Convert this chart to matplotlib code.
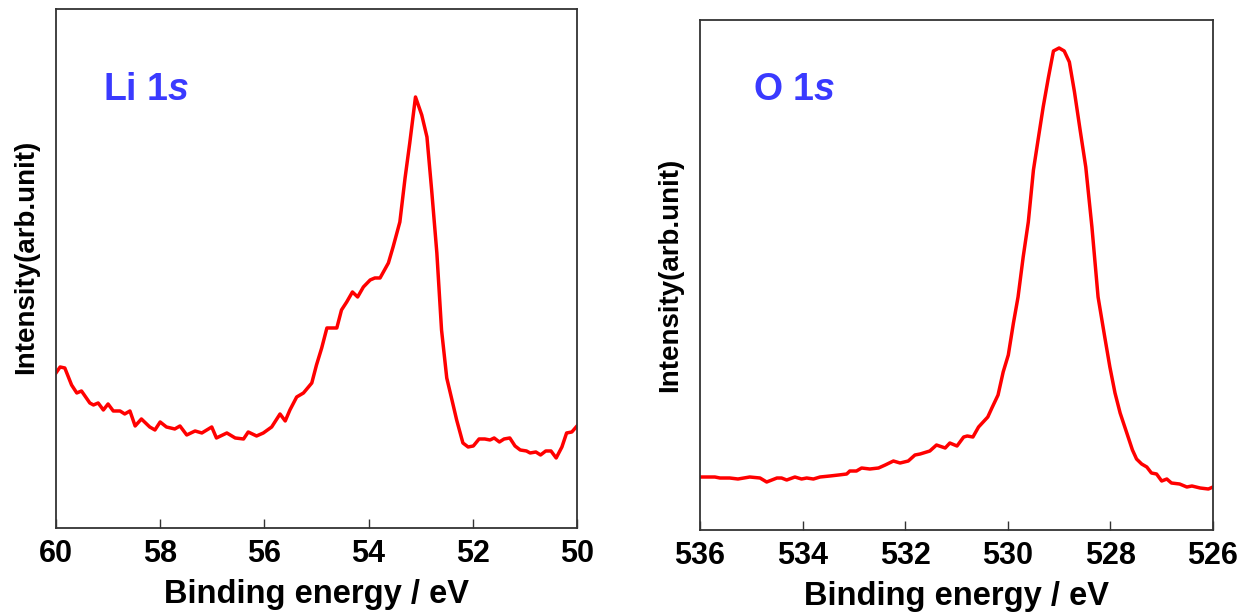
import matplotlib.pyplot as plt

plt.switch_backend('agg')

# Li 1s spectrum (binding energy eV, intensity arb.)
li_be = [60.00, 59.92, 59.83, 59.70, 59.60, 59.51, 59.35, 59.28, 59.19, 59.09,
         59.00, 58.90, 58.77, 58.68, 58.58, 58.48, 58.36, 58.20, 58.10, 58.00,
         57.88, 57.72, 57.62, 57.49, 57.33, 57.20, 57.01, 56.92, 56.72, 56.56,
         56.40, 56.31, 56.15, 56.02, 55.86, 55.70, 55.60, 55.51, 55.38, 55.25,
         55.09, 55.00, 54.90, 54.80, 54.61, 54.52, 54.42, 54.31, 54.21, 54.10,
         53.97, 53.88, 53.78, 53.62, 53.53, 53.40, 53.30, 53.21, 53.10, 52.98,
         52.88, 52.79, 52.69, 52.60, 52.50, 52.40, 52.31, 52.19, 52.09, 51.99,
         51.88, 51.77, 51.67, 51.59, 51.49, 51.40, 51.29, 51.19, 51.09, 50.97,
         50.90, 50.79, 50.70, 50.60, 50.50, 50.40, 50.29, 50.20, 50.10, 50.00]
li_int = [155, 161, 160, 143, 135, 137, 125, 123, 125, 118,
          124, 117, 117, 114, 117, 102, 109, 101, 98, 106,
          101, 99, 102, 93, 97, 95, 101, 90, 95, 90,
          89, 96, 92, 95, 101, 114, 107, 118, 131, 135,
          145, 163, 180, 200, 200, 218, 226, 236, 231, 241,
          248, 250, 250, 265, 281, 306, 350, 385, 431, 413,
          391, 338, 275, 198, 150, 128, 108, 85, 81, 82,
          89, 89, 88, 90, 86, 89, 90, 82, 78, 77,
          75, 76, 73, 77, 77, 70, 81, 95, 96, 102]

# O 1s spectrum
o_be = [536.00, 535.71, 535.61, 535.42, 535.26, 535.03, 534.83, 534.70, 534.50, 534.41,
        534.31, 534.15, 534.02, 533.92, 533.79, 533.66, 533.47, 533.30, 533.14, 533.08,
        532.95, 532.85, 532.69, 532.52, 532.39, 532.23, 532.10, 531.94, 531.81, 531.71,
        531.52, 531.39, 531.22, 531.13, 530.99, 530.86, 530.79, 530.68, 530.57, 530.39,
        530.31, 530.19, 530.09, 529.99, 529.89, 529.80, 529.70, 529.60, 529.50, 529.41,
        529.31, 529.21, 529.11, 529.00, 528.90, 528.80, 528.70, 528.59, 528.48, 528.36,
        528.24, 528.11, 528.01, 527.91, 527.81, 527.68, 527.57, 527.49, 527.39, 527.29,
        527.20, 527.10, 527.00, 526.90, 526.81, 526.65, 526.51, 526.41, 526.25, 526.09,
        526.00]
o_int = [53, 53, 52, 52, 51, 53, 52, 48, 52, 52,
         50, 53, 51, 52, 51, 53, 54, 55, 56, 59,
         59, 62, 61, 62, 65, 69, 67, 69, 75, 76,
         79, 85, 82, 87, 84, 93, 94, 93, 103, 113,
         122, 135, 158, 175, 207, 233, 273, 308, 360, 390,
         423, 452, 479, 482, 479, 468, 438, 400, 363, 303,
         233, 193, 163, 137, 117, 97, 80, 71, 66, 63,
         57, 56, 49, 51, 47, 46, 43, 44, 42, 41,
         43]

li_ticks = [60, 58, 56, 54, 52, 50]
o_ticks = [536, 534, 532, 530, 528, 526]

plt.rcParams['font.family'] = ['Liberation Sans', 'DejaVu Sans']
plt.rcParams['font.weight'] = 'bold'
plt.rcParams['mathtext.fontset'] = 'custom'
plt.rcParams['mathtext.it'] = 'Liberation Sans:italic:bold'
plt.rcParams['mathtext.rm'] = 'Liberation Sans:bold'

fig = plt.figure(figsize=(12.46, 6.15), dpi=100)
ax1 = fig.add_axes([0.0449, 0.1415, 0.4182, 0.8439])
ax2 = fig.add_axes([0.5618, 0.1382, 0.4117, 0.8293])

panels = [
    (ax1, li_be, li_int, li_ticks, (60, 50), (0, 519), r'Li 1$\mathit{s}$', (0.09, 0.825), 0.523),
    (ax2, o_be, o_int, o_ticks, (536, 526), (0, 510), r'O 1$\mathit{s}$', (0.103, 0.843), 0.5),
]

for ax, xs, ys, ticks, xl, yl, name, pos, ylab_y in panels:
    ax.plot(xs, ys, color='#ff0000', lw=2.5)
    ax.set_xlim(*xl)
    ax.set_ylim(*yl)
    ax.set_xticks(ticks)
    ax.set_yticks([])
    ax.tick_params(axis='x', direction='in', length=6.5, width=1.0,
                   labelsize=22, pad=8, color='#333333')
    for lab in ax.get_xticklabels():
        lab.set_fontweight('bold')
    for sp in ax.spines.values():
        sp.set_linewidth(1.3)
        sp.set_color('#333333')
    ax.set_xlabel('Binding energy / eV', fontsize=23.5, fontweight='bold', labelpad=7)
    ax.set_ylabel('Intensity(arb.unit)', fontsize=20, fontweight='bold', labelpad=12)
    ax.yaxis.label.set_y(ylab_y)
    ax.text(pos[0], pos[1], name, transform=ax.transAxes, fontsize=27,
            fontweight='bold', color='#3a3aff', ha='left', va='baseline')

plt.savefig('out.png', dpi=100)
